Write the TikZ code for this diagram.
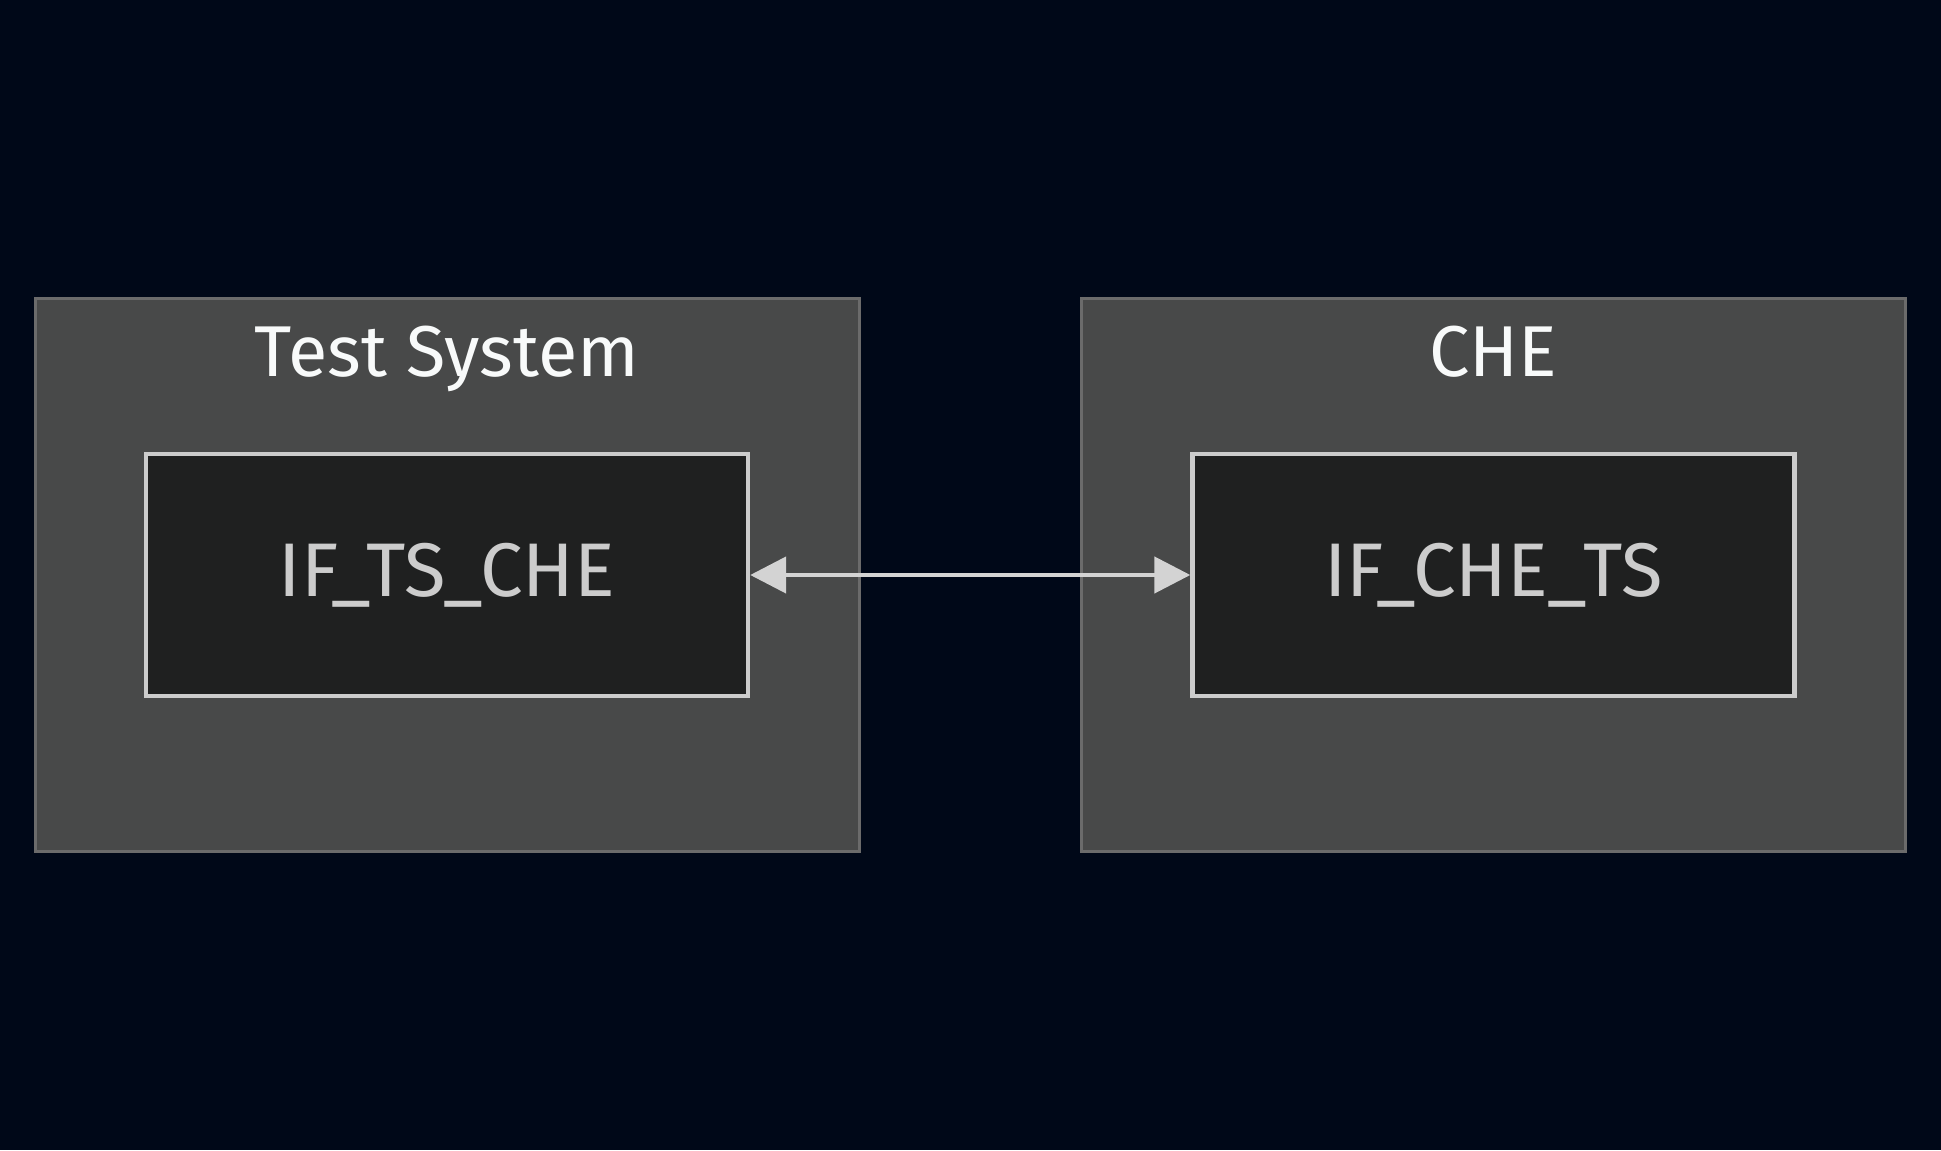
\documentclass[tikz,border=0pt]{standalone}
\usepackage{fontspec}
\setmainfont{Fira Sans}
\usetikzlibrary{arrows.meta}
\definecolor{bgnavy}{HTML}{000818}
\definecolor{clusterfill}{HTML}{484949}
\definecolor{clusterline}{HTML}{6B6B6B}
\definecolor{ifacefill}{HTML}{1F2020}
\definecolor{ifaceline}{HTML}{CCCCCC}
\definecolor{ifacetext}{HTML}{CCCCCC}
\definecolor{titletext}{HTML}{F8FAFA}
\definecolor{arrowline}{HTML}{D3D3D3}
\begin{document}
\begin{tikzpicture}[x=0.5pt, y=-0.5pt,
    cluster/.style={draw=clusterline, fill=clusterfill, line width=1.5pt,
        minimum width=412pt, minimum height=276.5pt, inner sep=0pt},
    iface/.style={draw=ifaceline, fill=ifacefill, line width=2.2pt,
        minimum width=301pt, minimum height=121pt, text=ifacetext,
        font=\fontsize{38}{40}\selectfont},
    title/.style={text=titletext, anchor=base, inner sep=0pt,
        font=\fontsize{36}{38}\selectfont}]
    % Background
    \fill[bgnavy] (0,0) rectangle (1941,1150);
    \useasboundingbox (0,0) rectangle (1941,1150);

    % Define the nodes
    \node[cluster] (ts) at (447,574.5) {};
    \node[cluster] (che) at (1493.5,574.5) {};
    \node[title] (tstitle) at (447,376) {Test System};
    \node[title] (chetitle) at (1493.5,376) {CHE};
    \node[iface] (ifts) at (447,575) {IF\_TS\_CHE};
    \node[iface] (ifche) at (1493.5,575) {IF\_CHE\_TS};

    % Draw the edges
    \draw[line width=2.3pt, arrowline,
        {Triangle[length=18pt,width=18pt]}-{Triangle[length=18pt,width=18pt]}]
        (ifts) -- (ifche);
\end{tikzpicture}
\end{document}
